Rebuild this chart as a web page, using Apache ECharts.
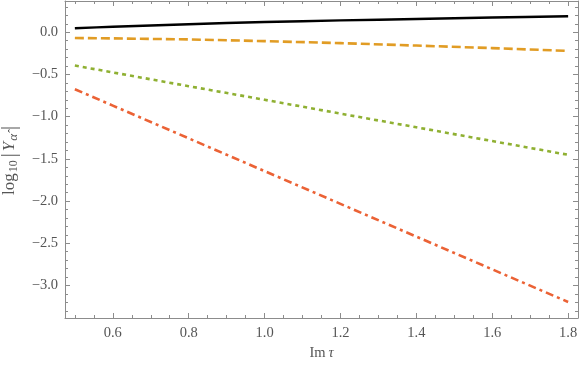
<!DOCTYPE html>
<html>
<head>
<meta charset="utf-8">
<script src="https://cdn.jsdelivr.net/npm/echarts@6/dist/echarts.min.js"></script>
<style>
html,body{margin:0;padding:0;background:#fff;}
#chart{width:581px;height:367px;}
</style>
</head>
<body>
<div id="chart"></div>
<script>
// ---- data ----
const imTau = [0.5, 0.6, 0.8, 1.0, 1.2, 1.4, 1.6, 1.8];
const seriesBlack  = [0.047, 0.065, 0.095, 0.121, 0.140, 0.157, 0.174, 0.190];
const seriesOrange = [-0.068, -0.073, -0.085, -0.105, -0.129, -0.158, -0.188, -0.221];
const seriesGreen  = [-0.395, -0.476, -0.639, -0.800, -0.964, -1.126, -1.289, -1.452];
const seriesRed    = [-0.675, -0.869, -1.257, -1.645, -2.033, -2.421, -2.809, -3.195];

const xMajorTicks = [0.6, 0.8, 1.0, 1.2, 1.4, 1.6, 1.8];
const xMinorTicks = [0.5, 0.55, 0.65, 0.7, 0.75, 0.85, 0.9, 0.95, 1.05, 1.1, 1.15, 1.25, 1.3, 1.35, 1.45, 1.5, 1.55, 1.65, 1.7, 1.75];
const yMajorTicks = [0.0, -0.5, -1.0, -1.5, -2.0, -2.5, -3.0];
const yMinorTicks = [0.3, 0.2, 0.1, -0.1, -0.2, -0.3, -0.4, -0.6, -0.7, -0.8, -0.9, -1.1, -1.2, -1.3, -1.4, -1.6, -1.7, -1.8, -1.9, -2.1, -2.2, -2.3, -2.4, -2.6, -2.7, -2.8, -2.9, -3.1, -3.2, -3.3];

const xRange = [0.474, 1.826];
const yRange = [-3.385, 0.37];

const frameColor = '#8c8c8c';
const labelColor = '#555555';
const fontFam = 'Liberation Serif';

function pairs(xs, ys) { return xs.map((x, i) => [x, ys[i]]); }
function fmt(v) {
  const s = Math.abs(v).toFixed(1);
  return (v < -1e-9 ? '\u2212' : '') + s;
}

function xAxisDef(pos, ticks, len, showLine, showLabel) {
  return {
    type: 'value', position: pos, min: xRange[0], max: xRange[1],
    splitLine: { show: false },
    axisLine: { show: showLine, onZero: false, lineStyle: { color: frameColor, width: 1 } },
    axisTick: { show: true, inside: true, length: len, customValues: ticks, lineStyle: { color: frameColor, width: 1 } },
    axisLabel: showLabel ? { show: true, customValues: ticks, formatter: fmt, color: labelColor, fontFamily: fontFam, fontSize: 14.5, margin: 8 } : { show: false },
    z: 1
  };
}
function yAxisDef(pos, ticks, len, showLine, showLabel) {
  return {
    type: 'value', position: pos, min: yRange[0], max: yRange[1],
    splitLine: { show: false },
    axisLine: { show: showLine, onZero: false, lineStyle: { color: frameColor, width: 1 } },
    axisTick: { show: true, inside: true, length: len, customValues: ticks, lineStyle: { color: frameColor, width: 1 } },
    axisLabel: showLabel ? { show: true, customValues: ticks, formatter: fmt, color: labelColor, fontFamily: fontFam, fontSize: 14.5, margin: 7 } : { show: false },
    z: 1
  };
}

const xMain = xAxisDef('bottom', xMajorTicks, 5, true, true);
xMain.name = '{n|Im\u2009}{i|\u03c4}';
xMain.nameLocation = 'middle';
xMain.nameGap = 28;
xMain.nameTextStyle = {
  color: labelColor, fontFamily: fontFam, fontSize: 14.5,
  rich: { n: { fontFamily: fontFam, fontSize: 14.5, color: labelColor }, i: { fontFamily: fontFam, fontSize: 14.5, fontStyle: 'italic', color: labelColor } }
};

const yMain = yAxisDef('left', yMajorTicks, 5, true, true);
yMain.name = '{n|log}{s|10}{b||}{i|Y}{a|\u03b1\u0302}{b||}';
yMain.nameLocation = 'middle';
yMain.nameRotate = 90;
yMain.nameGap = 44;
yMain.nameTextStyle = {
  color: labelColor, fontFamily: fontFam, fontSize: 17,
  rich: {
    n: { fontFamily: fontFam, fontSize: 17, color: labelColor, lineHeight: 22 },
    b: { fontFamily: fontFam, fontSize: 20, color: labelColor, lineHeight: 22, padding: [0, 2, 0, 2] },
    i: { fontFamily: fontFam, fontSize: 17, fontStyle: 'italic', color: labelColor, lineHeight: 22 },
    s: { fontFamily: fontFam, fontSize: 12, color: labelColor, padding: [7, 1, 0, 1], lineHeight: 22 },
    a: { fontFamily: fontFam, fontSize: 13, fontStyle: 'italic', color: labelColor, padding: [8, 2, 0, 1], lineHeight: 22 }
  }
};

const option = {
  animation: false,
  backgroundColor: '#ffffff',
  grid: { left: 65, right: 3, top: 1, bottom: 49, containLabel: false, outerBoundsMode: 'none' },
  xAxis: [
    xMain,
    xAxisDef('bottom', xMinorTicks, 3, false, false),
    xAxisDef('top', xMajorTicks, 5, true, false),
    xAxisDef('top', xMinorTicks, 3, false, false)
  ],
  yAxis: [
    yMain,
    yAxisDef('left', yMinorTicks, 3, false, false),
    yAxisDef('right', yMajorTicks, 5, true, false),
    yAxisDef('right', yMinorTicks, 3, false, false)
  ],
  series: [
    { type: 'line', data: pairs(imTau, seriesBlack), showSymbol: false, smooth: 0.3,
      lineStyle: { color: '#000000', width: 2.4, type: 'solid' }, z: 5 },
    { type: 'line', data: pairs(imTau, seriesOrange), showSymbol: false,
      lineStyle: { color: '#E19C24', width: 2.6, type: [9, 4] }, z: 4 },
    { type: 'line', data: pairs(imTau, seriesGreen), showSymbol: false,
      lineStyle: { color: '#8FB032', width: 2.6, type: [4, 4] }, z: 3 },
    { type: 'line', data: pairs(imTau, seriesRed), showSymbol: false,
      lineStyle: { color: '#EB6235', width: 2.6, type: [8, 4, 3, 4] }, z: 2 }
  ]
};

const chart = echarts.init(document.getElementById('chart'), null, { renderer: 'canvas' });
chart.setOption(option);
</script>
</body>
</html>
